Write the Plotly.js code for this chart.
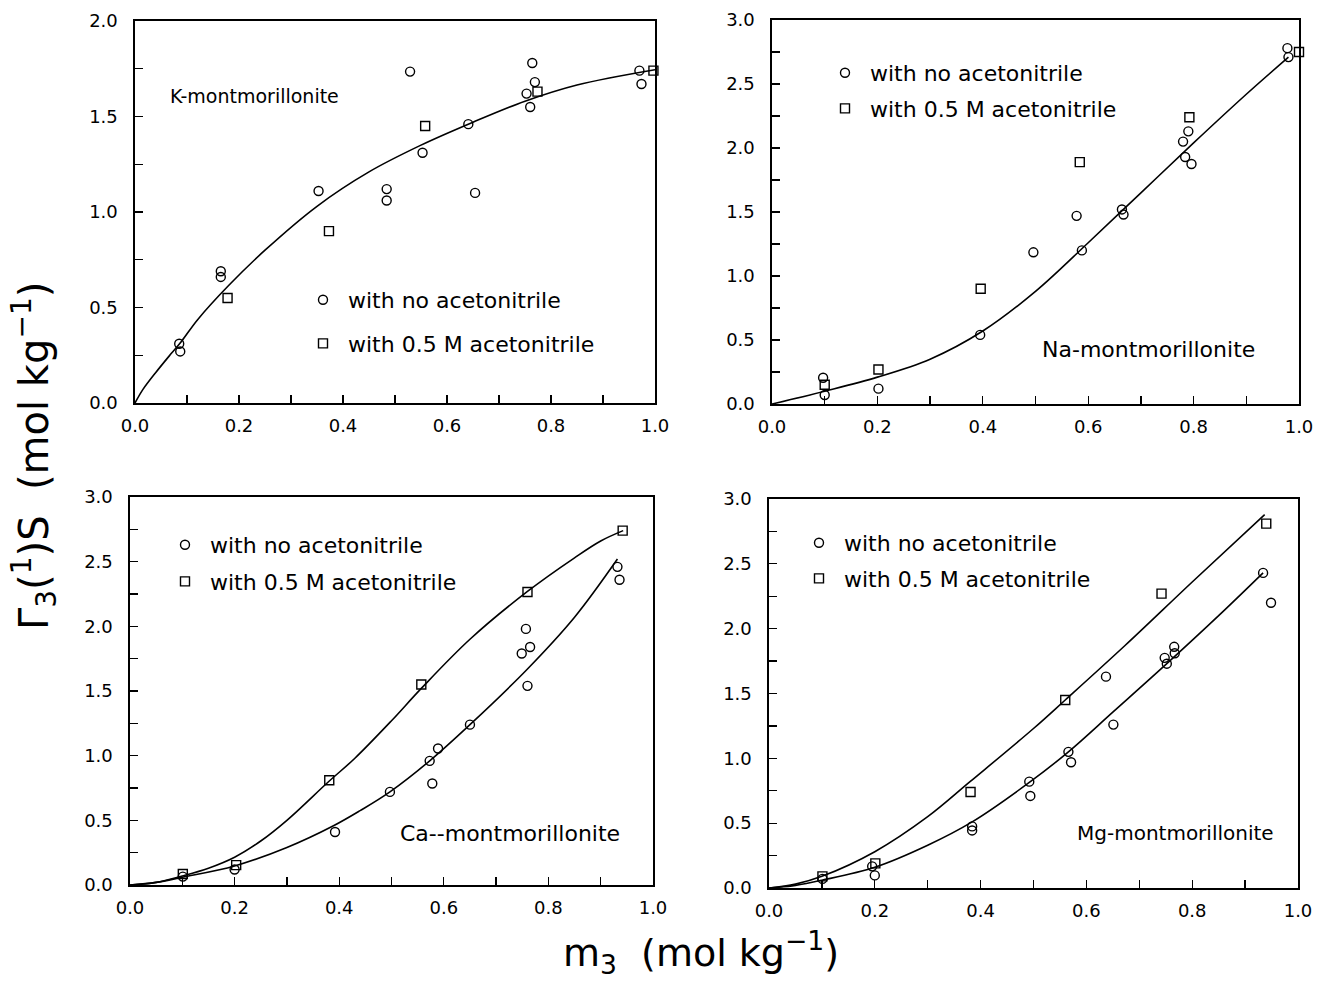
<!DOCTYPE html>
<html><head><meta charset="utf-8">
<script src="https://cdn.plot.ly/plotly-3.0.1.min.js"></script>
<style>html,body{margin:0;padding:0;background:#fff}</style>
</head><body><div id="chart" style="width:1319px;height:984px"></div>
<script>
// ---- K-montmorillonite ----
const kNoX = [0.085, 0.087, 0.165, 0.165, 0.353, 0.484, 0.484, 0.529, 0.553, 0.641, 0.654, 0.753, 0.760, 0.764, 0.769, 0.970, 0.974];
const kNoY = [0.31, 0.27, 0.69, 0.66, 1.11, 1.12, 1.06, 1.735, 1.31, 1.46, 1.10, 1.62, 1.55, 1.78, 1.68, 1.74, 1.67];
const kSqX = [0.178, 0.373, 0.558, 0.774, 0.997];
const kSqY = [0.55, 0.90, 1.45, 1.63, 1.74];
const kFitX = [0, 0.015, 0.04, 0.07, 0.09, 0.12, 0.18, 0.25, 0.35, 0.45, 0.55, 0.65, 0.75, 0.85, 1.0];
const kFitY = [0, 0.07, 0.16, 0.26, 0.325, 0.435, 0.615, 0.80, 1.03, 1.21, 1.35, 1.47, 1.58, 1.665, 1.745];

// ---- Na-montmorillonite ----
const naNoX = [0.097, 0.100, 0.202, 0.395, 0.496, 0.578, 0.588, 0.664, 0.667, 0.780, 0.790, 0.784, 0.796, 0.978, 0.980];
const naNoY = [0.205, 0.07, 0.12, 0.54, 1.185, 1.47, 1.20, 1.52, 1.48, 2.05, 2.13, 1.93, 1.875, 2.78, 2.71];
const naSqX = [0.100, 0.202, 0.396, 0.584, 0.792, 1.0];
const naSqY = [0.15, 0.27, 0.90, 1.89, 2.24, 2.75];
const naFitX = [0, 0.1, 0.2, 0.3, 0.4, 0.5, 0.6, 0.7, 0.8, 0.9, 0.98];
const naFitY = [0, 0.10, 0.21, 0.35, 0.57, 0.88, 1.26, 1.65, 2.04, 2.42, 2.71];

// ---- Ca-montmorillonite ----
const caNoX = [0.101, 0.200, 0.392, 0.497, 0.573, 0.589, 0.578, 0.650, 0.757, 0.749, 0.765, 0.760, 0.932, 0.936];
const caNoY = [0.065, 0.12, 0.41, 0.72, 0.96, 1.055, 0.785, 1.24, 1.98, 1.79, 1.84, 1.54, 2.46, 2.36];
const caSqX = [0.101, 0.203, 0.381, 0.557, 0.760, 0.942];
const caSqY = [0.085, 0.154, 0.81, 1.55, 2.265, 2.74];
const caFitNoX = [0, 0.05, 0.1, 0.2, 0.3, 0.39, 0.44, 0.497, 0.573, 0.65, 0.76, 0.85, 0.932];
const caFitNoY = [0, 0.02, 0.06, 0.147, 0.29, 0.46, 0.575, 0.72, 0.96, 1.24, 1.67, 2.07, 2.52];
const caFitSqX = [0, 0.05, 0.1, 0.15, 0.2, 0.25, 0.3, 0.38, 0.43, 0.5, 0.557, 0.65, 0.76, 0.85, 0.9, 0.943];
const caFitSqY = [0, 0.02, 0.07, 0.13, 0.215, 0.34, 0.50, 0.80, 0.98, 1.27, 1.52, 1.90, 2.27, 2.53, 2.66, 2.74];

// ---- Mg-montmorillonite ----
const mgNoX = [0.101, 0.195, 0.200, 0.384, 0.384, 0.492, 0.494, 0.566, 0.571, 0.637, 0.651, 0.752, 0.748, 0.766, 0.767, 0.934, 0.949];
const mgNoY = [0.07, 0.167, 0.097, 0.475, 0.444, 0.82, 0.71, 1.05, 0.97, 1.63, 1.26, 1.73, 1.775, 1.86, 1.81, 2.43, 2.20];
const mgSqX = [0.101, 0.201, 0.381, 0.560, 0.742, 0.940];
const mgSqY = [0.09, 0.19, 0.74, 1.45, 2.27, 2.81];
const mgFitNoX = [0, 0.05, 0.1, 0.2, 0.3, 0.384, 0.494, 0.566, 0.651, 0.752, 0.85, 0.934];
const mgFitNoY = [0, 0.02, 0.06, 0.16, 0.33, 0.51, 0.82, 1.05, 1.36, 1.73, 2.10, 2.43];
const mgFitSqX = [0, 0.05, 0.1, 0.2, 0.3, 0.38, 0.5, 0.56, 0.673, 0.8, 0.937];
const mgFitSqY = [0, 0.03, 0.09, 0.28, 0.55, 0.82, 1.23, 1.45, 1.87, 2.36, 2.88];

// ---- texts ----
const seriesNames = ['with no acetonitrile', 'with 0.5 M acetonitrile'];
const panelLabels = ['K-montmorillonite', 'Na-montmorillonite', 'Ca--montmorillonite', 'Mg-montmorillonite'];
const xTitle = 'm<sub>3</sub>\u00a0\u00a0(mol kg<sup>\u22121</sup>)';
const yTitle = '\u0393<sub>3</sub>(<sup>1</sup>)S\u00a0\u00a0(mol kg<sup>\u22121</sup>)';

const W = 1319, H = 984;
const FONT = 'DejaVu Sans, Liberation Sans, sans-serif';

function pts(x, y, sym, xa, ya, leg, name) {
  return {x, y, type:'scatter', mode:'markers', xaxis:xa, yaxis:ya, legend:leg, name,
    legendgroup: leg + name, cliponaxis:false,
    marker:{symbol:sym, size:9, color:'#000', line:{color:'#000', width:1.4}}};
}
function fit(x, y, xa, ya) {
  return {x, y, type:'scatter', mode:'lines', xaxis:xa, yaxis:ya, showlegend:false, hoverinfo:'skip',
    line:{color:'#000', width:1.6, shape:'spline', smoothing:1}};
}

const traces = [
  pts(kNoX, kNoY, 'circle-open', 'x', 'y', 'legend', seriesNames[0]),
  pts(kSqX, kSqY, 'square-open', 'x', 'y', 'legend', seriesNames[1]),
  fit(kFitX, kFitY, 'x', 'y'),
  pts(naNoX, naNoY, 'circle-open', 'x2', 'y2', 'legend2', seriesNames[0]),
  pts(naSqX, naSqY, 'square-open', 'x2', 'y2', 'legend2', seriesNames[1]),
  fit(naFitX, naFitY, 'x2', 'y2'),
  pts(caNoX, caNoY, 'circle-open', 'x3', 'y3', 'legend3', seriesNames[0]),
  pts(caSqX, caSqY, 'square-open', 'x3', 'y3', 'legend3', seriesNames[1]),
  fit(caFitNoX, caFitNoY, 'x3', 'y3'),
  fit(caFitSqX, caFitSqY, 'x3', 'y3'),
  pts(mgNoX, mgNoY, 'circle-open', 'x4', 'y4', 'legend4', seriesNames[0]),
  pts(mgSqX, mgSqY, 'square-open', 'x4', 'y4', 'legend4', seriesNames[1]),
  fit(mgFitNoX, mgFitNoY, 'x4', 'y4'),
  fit(mgFitSqX, mgFitSqY, 'x4', 'y4'),
];

function ax(d0, d1, range, dtick, minor, anchor, isY) {
  const dom = isY ? [1 - d1 / H, 1 - d0 / H] : [d0 / W, d1 / W];
  return {domain: dom, range, anchor, tick0:0, dtick, ticks:'inside', ticklen:8, tickwidth:1.3, tickcolor:'#000',
    minor:{dtick:minor, tick0:0, ticks:'inside', ticklen:8, tickwidth:1.3, tickcolor:'#000'},
    showline:true, linecolor:'#000', linewidth:1.6, mirror:true, showgrid:false, zeroline:false,
    tickformat:'.1f', ticklabelstandoff: isY ? 12 : 6,
    tickfont:{family:FONT, size:18, color:'#000'}, fixedrange:true};
}

function legend(xpx, ypx, gap) {
  return {x:xpx / W, y:1 - ypx / H, xanchor:'left', yanchor:'top', bgcolor:'rgba(0,0,0,0)', borderwidth:0,
    font:{family:FONT, size:22, color:'#000'}, tracegroupgap:gap, itemwidth:40,
    itemclick:false, itemdoubleclick:false};
}

function label(text, xpx, ypx, size, extra) {
  return Object.assign({text, xref:'paper', yref:'paper', x:xpx / W, y:1 - ypx / H, xanchor:'left', yanchor:'middle',
    showarrow:false, font:{family:FONT, size:size, color:'#000'}}, extra || {});
}

const layout = {
  width:W, height:H, margin:{l:0, r:0, t:0, b:0}, paper_bgcolor:'#fff', plot_bgcolor:'#fff',
  showlegend:true,
  xaxis: ax(135, 655, [0, 1], 0.2, 0.1, 'y', false),
  yaxis: ax(21, 403, [0, 2], 0.5, 0.25, 'x', true),
  xaxis2: ax(772, 1299, [0, 1], 0.2, 0.1, 'y2', false),
  yaxis2: ax(20, 404, [0, 3], 0.5, 0.25, 'x2', true),
  xaxis3: ax(130, 653, [0, 1], 0.2, 0.1, 'y3', false),
  yaxis3: ax(497, 885, [0, 3], 0.5, 0.25, 'x3', true),
  xaxis4: ax(769, 1298, [0, 1], 0.2, 0.1, 'y4', false),
  yaxis4: ax(499, 888, [0, 3], 0.5, 0.25, 'x4', true),
  legend: legend(298, 279, 12),
  legend2: legend(820, 52, 4),
  legend3: legend(160, 524, 5),
  legend4: legend(794, 522, 4),
  annotations: [
    label(panelLabels[0], 168, 96, 19),
    label(panelLabels[1], 1040, 349, 22),
    label(panelLabels[2], 398, 833, 22),
    label(panelLabels[3], 1075, 833, 20),
    label(xTitle, 701, 952, 38, {xanchor:'center'}),
    label(yTitle, 34, 456, 40, {xanchor:'center', textangle:-90}),
  ],
};

Plotly.newPlot('chart', traces, layout, {staticPlot:true, displayModeBar:false});
</script>
</body></html>
